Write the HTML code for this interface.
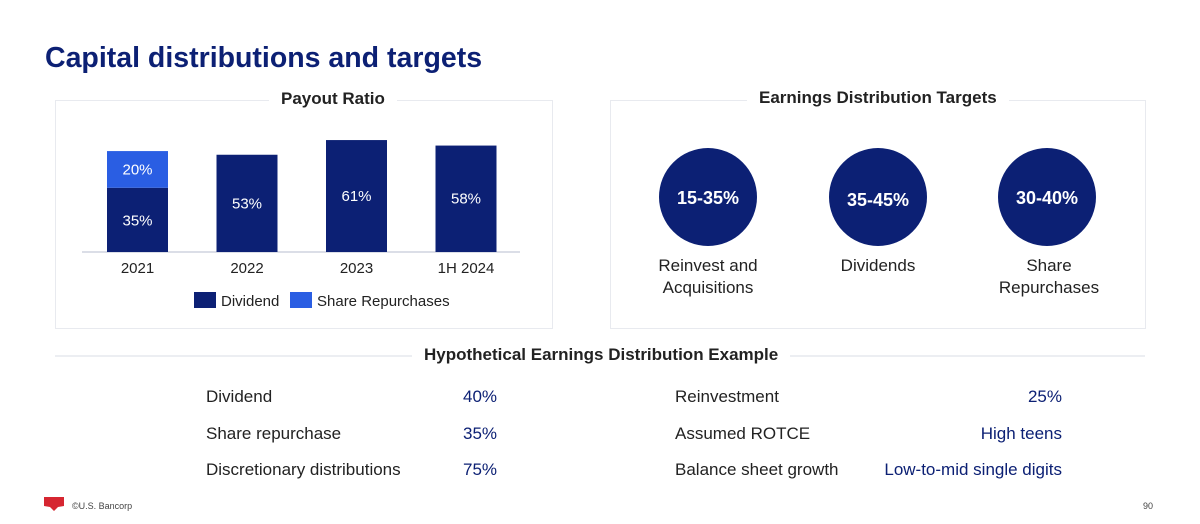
<!DOCTYPE html>
<html><head><meta charset="utf-8"><style>
body{margin:0;width:1200px;height:524px;background:#fff;font-family:"Liberation Sans",sans-serif;position:relative;overflow:hidden}
.a{position:absolute;white-space:nowrap}
.t{color:#222}
.b{color:#0c2074}
.hd{font-weight:bold;font-size:17px;color:#222;background:#fff;padding:0 12px}
</style></head><body>
<div class="a" style="left:45px;top:42px;font-size:28.5px;font-weight:bold;color:#0c2074">Capital distributions and targets</div>

<div class="a" style="left:55px;top:100px;width:496px;height:227px;border:1.5px solid #e8eaef"></div>
<div class="a hd" style="left:269px;top:89px">Payout Ratio</div>
<svg class="a" id="chart" style="left:0;top:0" width="600" height="330"></svg>

<div class="a" style="left:610px;top:100px;width:534px;height:227px;border:1.5px solid #e8eaef"></div>
<div class="a hd" style="left:747px;top:88px">Earnings Distribution Targets</div>
<svg class="a" style="left:600px;top:140px" width="560" height="120">
<circle cx="108" cy="57" r="49" fill="#0c2074"/>
<circle cx="278" cy="57" r="49" fill="#0c2074"/>
<circle cx="447" cy="57" r="49" fill="#0c2074"/>
<text x="108" y="64" text-anchor="middle" fill="#fff" font-size="18" font-weight="bold" font-family="Liberation Sans">15-35%</text>
<text x="278" y="66" text-anchor="middle" fill="#fff" font-size="18" font-weight="bold" font-family="Liberation Sans">35-45%</text>
<text x="447" y="64" text-anchor="middle" fill="#fff" font-size="18" font-weight="bold" font-family="Liberation Sans">30-40%</text>
</svg>
<div class="a t" style="left:608px;width:200px;top:255px;text-align:center;font-size:17px;line-height:22px">Reinvest and<br>Acquisitions</div>
<div class="a t" style="left:778px;width:200px;top:255px;text-align:center;font-size:17px;line-height:22px">Dividends</div>
<div class="a t" style="left:949px;width:200px;top:255px;text-align:center;font-size:17px;line-height:22px">Share<br>Repurchases</div>

<div class="a" style="left:55px;top:355px;width:1090px;height:1.5px;background:#eceef2"></div>
<div class="a hd" style="left:412px;top:345px">Hypothetical Earnings Distribution Example</div>

<div class="a t" style="left:206px;top:387px;font-size:17px">Dividend</div>
<div class="a b" style="left:463px;top:387px;font-size:17px">40%</div>
<div class="a t" style="left:206px;top:424px;font-size:17px">Share repurchase</div>
<div class="a b" style="left:463px;top:424px;font-size:17px">35%</div>
<div class="a t" style="left:206px;top:460px;font-size:17px">Discretionary distributions</div>
<div class="a b" style="left:463px;top:460px;font-size:17px">75%</div>
<div class="a t" style="left:675px;top:387px;font-size:17px">Reinvestment</div>
<div class="a b" style="right:138px;top:387px;font-size:17px">25%</div>
<div class="a t" style="left:675px;top:424px;font-size:17px">Assumed ROTCE</div>
<div class="a b" style="right:138px;top:424px;font-size:17px">High teens</div>
<div class="a t" style="left:675px;top:460px;font-size:17px">Balance sheet growth</div>
<div class="a b" style="right:138px;top:460px;font-size:17px">Low-to-mid single digits</div>

<svg class="a" style="left:44px;top:497px" width="20" height="14"><path d="M0 0H20V9L14 10L10 14L6 10L0 9Z" fill="#d62631"/></svg>
<div class="a" style="left:72px;top:501px;font-size:9px;color:#444">©U.S. Bancorp</div>
<div class="a" style="left:1143px;top:501px;font-size:9px;color:#444">90</div>

<script>
const categories=["2021","2022","2023","1H 2024"];
const dividend=[35,53,61,58];
const repurchase=[20,0,0,0];
const svg=document.getElementById('chart');
const NS='http://www.w3.org/2000/svg';
const base=252,pxPer=1.835,x0=107,step=109.5,bw=61;
const xs=i=>x0+i*step;
const ys=v=>v*pxPer;
function mk(tag,attrs){const e=document.createElementNS(NS,tag);for(const k in attrs)e.setAttribute(k,attrs[k]);svg.appendChild(e);return e;}
const ax=mk('line',{x1:82,x2:520,y1:base,y2:base,stroke:'#cfd3df','stroke-width':1.5});


categories.forEach((c,i)=>{
  const hd=ys(dividend[i]);
  const r=mk('rect',{x:xs(i),y:base-hd,width:bw,height:hd,fill:'#0c2074'});
  
  
  const tl=mk('text',{x:xs(i)+bw/2,y:base-hd*0.52+7,'text-anchor':'middle',fill:'#fff','font-size':15,'font-family':'Liberation Sans'});
  tl.textContent=dividend[i]+'%';
  
  
  if(repurchase[i]>0){
    const hr=ys(repurchase[i]);
    const r2=mk('rect',{x:xs(i),y:base-hd-hr,width:bw,height:hr,fill:'#2a5ee3'});
    
    
    const t2=mk('text',{x:xs(i)+bw/2,y:base-hd-hr/2+5,'text-anchor':'middle',fill:'#fff','font-size':15,'font-family':'Liberation Sans'});
    t2.textContent=repurchase[i]+'%';
    
    
  }
  const xl=mk('text',{x:xs(i)+bw/2,y:273,'text-anchor':'middle',fill:'#222','font-size':15,'font-family':'Liberation Sans'});
  xl.textContent=c;
  
  
});
const l1=mk('rect',{x:194,y:292,width:22,height:16,fill:'#0c2074'});


const lt1=mk('text',{x:221,y:306,fill:'#222','font-size':15,'font-family':'Liberation Sans'});lt1.textContent='Dividend';


const l2=mk('rect',{x:290,y:292,width:22,height:16,fill:'#2a5ee3'});


const lt2=mk('text',{x:317,y:306,fill:'#222','font-size':15,'font-family':'Liberation Sans'});lt2.textContent='Share Repurchases';


</script>
</body></html>
